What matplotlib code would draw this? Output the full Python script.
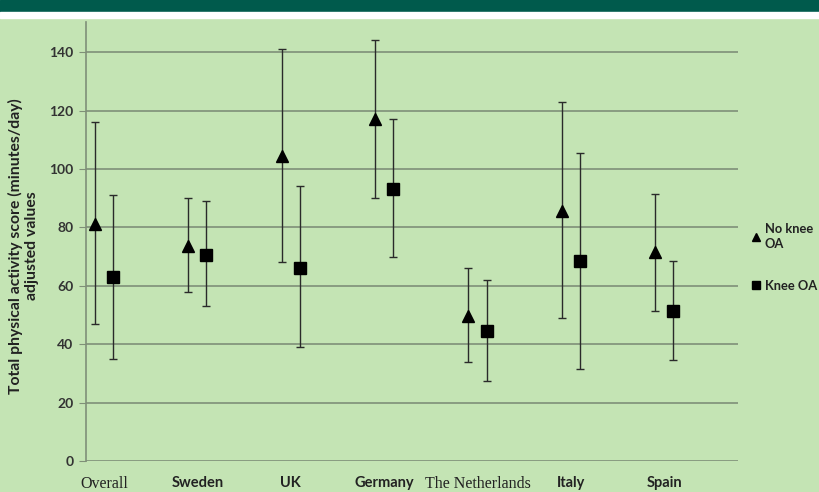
import matplotlib
matplotlib.use("Agg")
import matplotlib.pyplot as plt
from matplotlib.lines import Line2D
from matplotlib.patches import Rectangle
import numpy as np

categories = ["Overall", "Sweden", "UK", "Germany", "The Netherlands", "Italy", "Spain"]
no_oa_mean = [81, 73.5, 104.5, 117, 49.5, 85.5, 71.5]
no_oa_upper = [116, 90, 141, 144, 66, 123, 91.5]
no_oa_lower = [47, 58, 68, 90, 34, 49, 51.5]
oa_mean = [63, 70.5, 66, 93, 44.5, 68.5, 51.5]
oa_upper = [91, 89, 94, 117, 62, 105.5, 68.5]
oa_lower = [35, 53, 39, 70, 27.5, 31.5, 34.5]
yticks = [0, 20, 40, 60, 80, 100, 120, 140]
serif_labels = {"Overall", "The Netherlands"}

bg = "#c4e4b4"
W, H = 820, 492
fig = plt.figure(figsize=(W / 100, H / 100), dpi=100, facecolor=bg)

# top banner
fig.patches.append(Rectangle((0, 1 - 11.5 / H), 1, 11.5 / H, transform=fig.transFigure,
                             color="#005a4c", zorder=0))
fig.patches.append(Rectangle((0, 1 - 18 / H), 1, 6.5 / H, transform=fig.transFigure,
                             color="#ffffff", zorder=0))

ax = fig.add_axes([86 / W, (H - 461) / H, (738 - 86) / W, (461 - 22) / H])
ax.set_facecolor(bg)
ax.set_ylim(0, 150.3)
ax.set_xlim(-0.193, 6.79)

x = np.arange(len(categories))
off = 0.097
grid_c = "#7f8f78"
for yv in yticks:
    ax.axhline(yv, color=grid_c, lw=1.2, zorder=1)

def err(mean, lo, hi):
    m = np.array(mean); return [m - np.array(lo), np.array(hi) - m]

ax.errorbar(x - off, no_oa_mean, yerr=err(no_oa_mean, no_oa_lower, no_oa_upper), fmt='^',
            color="black", ms=9, ecolor="#2a2a2a", elinewidth=1.0, capsize=3, capthick=1.0, zorder=3)
ax.errorbar(x + off, oa_mean, yerr=err(oa_mean, oa_lower, oa_upper), fmt='s',
            color="black", ms=8, ecolor="#2a2a2a", elinewidth=1.0, capsize=3, capthick=1.0, zorder=3)

for s in ["top", "right", "bottom"]:
    ax.spines[s].set_visible(False)
ax.spines["left"].set_color(grid_c)
ax.spines["left"].set_linewidth(1.2)

ax.set_yticks(yticks)
ax.tick_params(axis="y", length=5, color=grid_c, labelsize=10, labelcolor="#333333", pad=4)
for t in ax.get_yticklabels():
    t.set_fontfamily("Lato"); t.set_fontweight("bold")

ax.set_xticks(x)
ax.set_xticklabels(categories)
ax.tick_params(axis="x", length=0, pad=11, labelsize=10.5, labelcolor="#222222")
for t in ax.get_xticklabels():
    if t.get_text() in serif_labels:
        t.set_fontfamily("Liberation Serif"); t.set_fontsize(11.5)
    else:
        t.set_fontfamily("Lato"); t.set_fontweight("bold")

ax.set_ylabel("Total physical activity score (minutes/day)\nadjusted values",
              fontsize=11.3, fontweight="bold", family="Lato", color="#222222",
              linespacing=1.15)
ax.yaxis.set_label_coords(-0.072, 0.49)

handles = [Line2D([], [], marker='^', ls='none', color='black', ms=6),
           Line2D([], [], marker='s', ls='none', color='black', ms=5.5)]
leg = fig.legend(handles, ["No knee\nOA", "Knee OA"], loc="upper left",
                 bbox_to_anchor=(741 / W, 1 - 211 / H), frameon=False,
                 prop={"family": "Lato", "weight": "bold", "size": 9.3},
                 handlelength=0.6, handletextpad=0.35, labelspacing=2.3)
for t in leg.get_texts():
    t.set_color("#222222")
    t.set_linespacing(1.35)

fig.savefig("out.png", dpi=100, facecolor=bg)
